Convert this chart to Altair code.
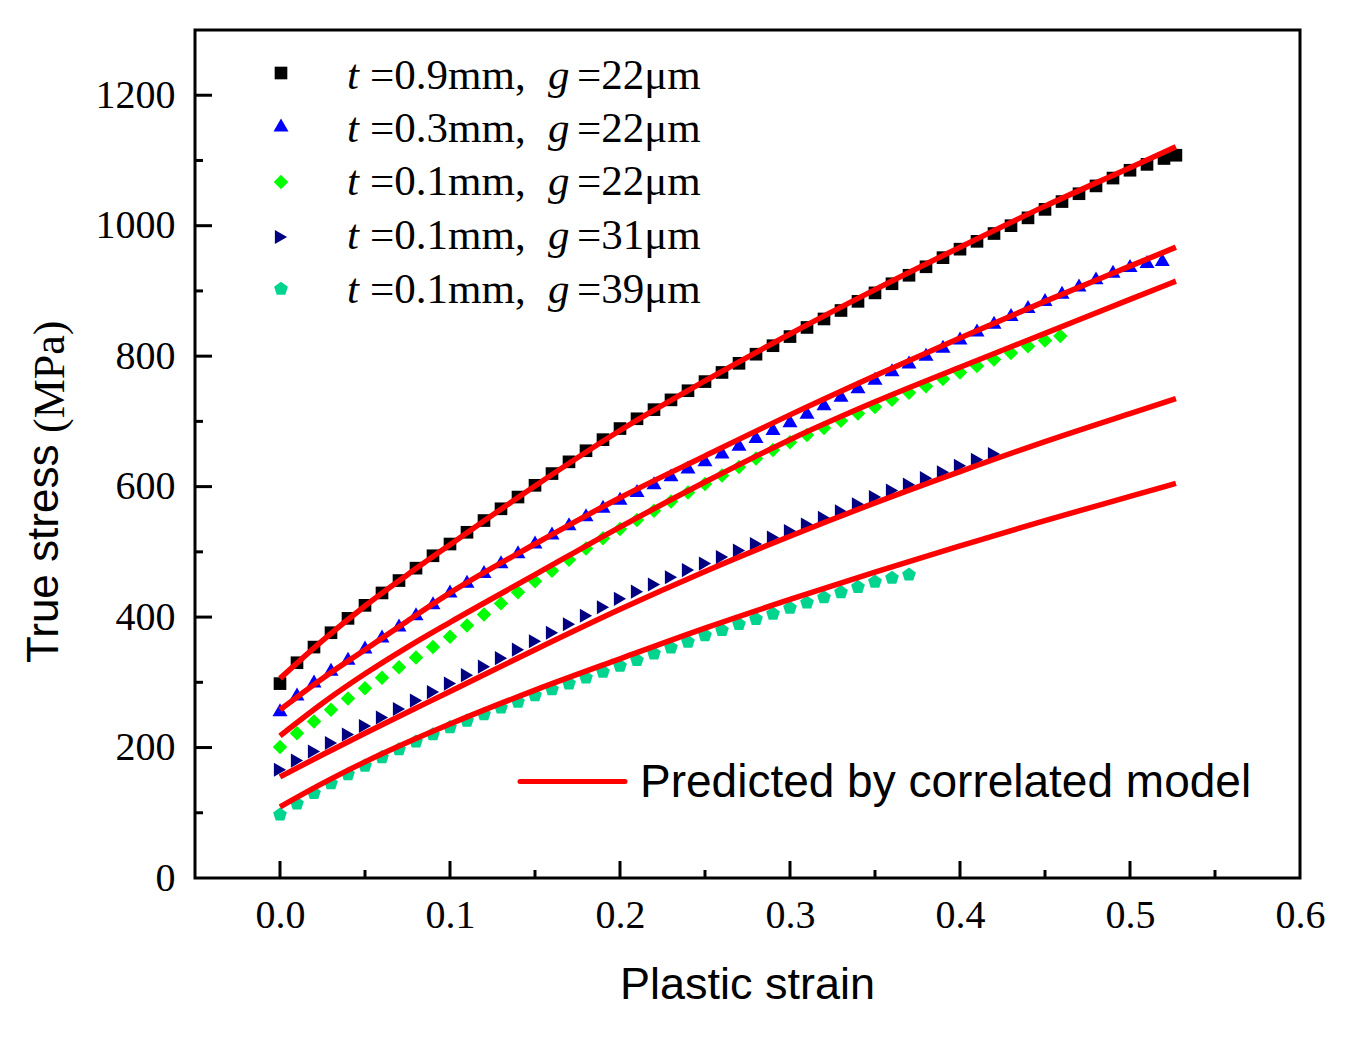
import altair as alt
import pandas as pd

# measured strain grid of the test points
strain_pts = [0.00, 0.01, 0.02, 0.03, 0.04, 0.05, 0.06, 0.07, 0.08, 0.09,
              0.10, 0.11, 0.12, 0.13, 0.14, 0.15, 0.16, 0.17, 0.18, 0.19,
              0.20, 0.21, 0.22, 0.23, 0.24, 0.25, 0.26, 0.27, 0.28, 0.29,
              0.30, 0.31, 0.32, 0.33, 0.34, 0.35, 0.36, 0.37, 0.38, 0.39,
              0.40, 0.41, 0.42, 0.43, 0.44, 0.45, 0.46, 0.47, 0.48, 0.49,
              0.50, 0.51, 0.52]

# t=0.9mm, g=22um
black_strain = strain_pts[:53] + [0.527]
black_stress = [298, 330, 354, 376, 398, 418, 437, 456, 475, 494,
                512, 530, 548, 566, 584, 602, 620, 638, 655, 672,
                689, 704, 718, 733, 747, 761, 775, 789, 803, 816,
                830, 844, 857, 870, 884, 897, 911, 924, 937, 951,
                964, 976, 988, 1000, 1012, 1025, 1037, 1049, 1061, 1073,
                1085, 1094, 1103, 1108]

# t=0.3mm, g=22um
blue_strain = strain_pts[:52] + [0.519]
blue_stress = [258, 282, 302, 320, 337, 354, 371, 388, 405, 422,
               440, 455, 470, 485, 500, 515, 529, 543, 557, 570,
               582, 594, 606, 618, 630, 641, 653, 665, 677, 689,
               701, 714, 727, 740, 753, 766, 779, 791, 803, 815,
               828, 840, 852, 864, 876, 887, 898, 909, 920, 930,
               939, 945, 948]

# t=0.1mm, g=22um
green_strain = strain_pts[:46] + [0.459]
green_stress = [201, 222, 240, 258, 275, 291, 307, 323, 338, 354,
                370, 387, 404, 421, 438, 455, 471, 488, 505, 521,
                535, 549, 563, 577, 591, 604, 617, 630, 643, 656,
                668, 679, 690, 701, 712, 722, 733, 744, 754, 765,
                775, 785, 795, 805, 815, 824, 831]

# t=0.1mm, g=31um
navy_strain = strain_pts[:43]
navy_stress = [166, 180, 194, 207, 220, 233, 246, 259, 272, 285,
               298, 311, 324, 337, 350, 363, 376, 389, 402, 415,
               428, 439, 450, 461, 472, 482, 492, 502, 512, 522,
               532, 542, 552, 562, 573, 584, 594, 603, 613, 622,
               632, 641, 650]

# t=0.1mm, g=39um
teal_strain = strain_pts[:38]
teal_stress = [97, 114, 130, 145, 159, 172, 185, 197, 209, 220,
               231, 241, 251, 261, 270, 280, 289, 298, 307, 316,
               325, 334, 344, 353, 362, 372, 380, 389, 397, 405,
               414, 422, 430, 438, 446, 454, 460, 465]

# correlated model predictions
model_strain = [0.0, 0.025, 0.05, 0.075, 0.1, 0.15, 0.2, 0.25, 0.3, 0.35, 0.4, 0.45, 0.5, 0.527]
black_fit = [306, 364, 417, 465, 511, 601, 686, 762, 834, 902, 967, 1030, 1089, 1121]
blue_fit = [258, 306, 350, 394, 437, 512, 583, 647, 710, 770, 828, 884, 938, 967]
green_fit = [218, 268, 313, 354, 392, 465, 538, 607, 672, 730, 783, 835, 887, 915]
navy_fit = [155, 189, 222, 254, 286, 350, 412, 470, 524, 575, 623, 669, 712, 735]
teal_fit = [109, 145, 178, 208, 236, 288, 336, 383, 427, 469, 509, 548, 585, 605]

t_labels = ["=0.9mm,", "=0.3mm,", "=0.1mm,", "=0.1mm,", "=0.1mm,"]
g_labels = ["=22μm", "=22μm", "=22μm", "=31μm", "=39μm"]

pentagon = "M0,-1L0.951,-0.309L0.588,0.809L-0.588,0.809L-0.951,-0.309Z"
colors = ["#000000", "#0000FF", "#00FF00", "#000080", "#00D48F"]
shapes = ["square", "triangle-up", "diamond", "triangle-right", pentagon]
sizes = [160, 225, 210, 200, 210]

W, H = 1105, 848
SERIF = "Liberation Serif"
SANS = "Liberation Sans"

x_scale = alt.Scale(domain=[-0.05, 0.6], nice=False, zero=False)
y_scale = alt.Scale(domain=[0, 1300], nice=False, zero=False)
x_axis = alt.Axis(values=[0, 0.1, 0.2, 0.3, 0.4, 0.5, 0.6], format=".1f", ticks=False,
                  domain=False, grid=False, labelFont=SERIF, labelFontSize=40,
                  labelColor="black", labelPadding=17, labelFlush=False, title=None)
y_axis = alt.Axis(values=[0, 200, 400, 600, 800, 1000, 1200], format="d", ticks=False,
                  domain=False, grid=False, labelFont=SERIF, labelFontSize=40,
                  labelColor="black", labelPadding=20, labelFlush=False, title=None)

# test points
pts = []
all_strain = [black_strain, blue_strain, green_strain, navy_strain, teal_strain]
all_stress = [black_stress, blue_stress, green_stress, navy_stress, teal_stress]
for i in range(5):
    for s, v in zip(all_strain[i], all_stress[i]):
        pts.append({"strain": s, "stress": v, "color": colors[i], "shape": shapes[i], "size": sizes[i]})
points_df = pd.DataFrame(pts)

points = alt.Chart(points_df).mark_point(filled=True, opacity=1, strokeWidth=0).encode(
    x=alt.X("strain:Q", scale=x_scale, axis=x_axis),
    y=alt.Y("stress:Q", scale=y_scale, axis=y_axis),
    color=alt.Color("color:N", scale=None),
    shape=alt.Shape("shape:N", scale=None),
    size=alt.Size("size:Q", scale=None),
)

# model curves
fit_rows = []
for name, fit in zip(["a", "b", "c", "d", "e"], [black_fit, blue_fit, green_fit, navy_fit, teal_fit]):
    for s, v in zip(model_strain, fit):
        fit_rows.append({"curve": name, "strain": s, "stress": v})
fit_df = pd.DataFrame(fit_rows)

fits = alt.Chart(fit_df).mark_line(color="#FF0000", strokeWidth=5.5, interpolate="monotone").encode(
    x=alt.X("strain:Q", scale=x_scale, axis=x_axis),
    y=alt.Y("stress:Q", scale=y_scale, axis=y_axis),
    detail="curve:N",
)

# inward ticks
x_major = pd.DataFrame({"v": [0, 0.1, 0.2, 0.3, 0.4, 0.5]})
x_minor = pd.DataFrame({"v": [0.05, 0.15, 0.25, 0.35, 0.45, 0.55]})
y_major = pd.DataFrame({"v": [200, 400, 600, 800, 1000, 1200]})
y_minor = pd.DataFrame({"v": [100, 300, 500, 700, 900, 1100]})

tick_layers = []
for df, length in [(x_major, 17), (x_minor, 8)]:
    tick_layers.append(alt.Chart(df).mark_rule(color="black", strokeWidth=3).encode(
        x=alt.X("v:Q", scale=x_scale, axis=x_axis), y=alt.value(H), y2=alt.value(H - length)))
for df, length in [(y_major, 17), (y_minor, 8)]:
    tick_layers.append(alt.Chart(df).mark_rule(color="black", strokeWidth=3).encode(
        y=alt.Y("v:Q", scale=y_scale, axis=y_axis), x=alt.value(0), x2=alt.value(length)))

# legend
one = pd.DataFrame({"a": [0]})
legend_df = pd.DataFrame({
    "color": colors, "shape": shapes, "size": sizes,
    "mark_y": [43, 95, 152, 207, 259],
    "base_y": [59, 112, 165, 219, 273],
    "tl": t_labels, "gl": g_labels,
})
leg_marks = alt.Chart(legend_df).mark_point(filled=True, opacity=1, strokeWidth=0).encode(
    x=alt.value(86), y=alt.Y("mark_y:Q", scale=None),
    color=alt.Color("color:N", scale=None),
    shape=alt.Shape("shape:N", scale=None),
    size=alt.Size("size:Q", scale=None),
)
leg_text = []
for xpos, field, italic in [(152, None, "t"), (175, "tl", None), (353, None, "g"), (382, "gl", None)]:
    if italic:
        leg_text.append(alt.Chart(legend_df).mark_text(
            text=italic, font=SERIF, fontSize=43, fontStyle="italic", align="left",
            baseline="alphabetic", color="black").encode(
            x=alt.value(xpos), y=alt.Y("base_y:Q", scale=None)))
    else:
        leg_text.append(alt.Chart(legend_df).mark_text(
            font=SERIF, fontSize=43, align="left", baseline="alphabetic", color="black").encode(
            x=alt.value(xpos), y=alt.Y("base_y:Q", scale=None), text=f"{field}:N"))

model_rule = alt.Chart(one).mark_rule(color="#FF0000", strokeWidth=5, strokeCap="round").encode(
    x=alt.value(325), x2=alt.value(430), y=alt.value(751.5))
model_text = alt.Chart(one).mark_text(
    text="Predicted by correlated model", font=SANS, fontSize=46, align="left",
    baseline="alphabetic", color="black").encode(x=alt.value(445), y=alt.value(767))

# axis titles
x_title = alt.Chart(one).mark_text(
    text="Plastic strain", font=SANS, fontSize=45, align="center",
    baseline="alphabetic", color="black").encode(x=alt.value(W / 2), y=alt.value(969))
y_title_a = alt.Chart(one).mark_text(
    text="True stress", font=SANS, fontSize=44, angle=270, align="left",
    baseline="alphabetic", color="black").encode(x=alt.value(-137), y=alt.value(633))
y_title_b = alt.Chart(one).mark_text(
    text="(MPa)", font=SERIF, fontSize=44, angle=270, align="left",
    baseline="alphabetic", color="black").encode(x=alt.value(-131), y=alt.value(403))

chart = alt.layer(
    points, fits, *tick_layers, leg_marks, *leg_text, model_rule, model_text,
    x_title, y_title_a, y_title_b,
).properties(
    width=W, height=H,
    autosize=alt.AutoSizeParams(type="none"),
    padding={"left": 187, "top": 22, "right": 41, "bottom": 150},
    background="white",
).configure_view(stroke="black", strokeWidth=3)

chart.save("out.html", embed_options={"renderer": "svg", "actions": False})
